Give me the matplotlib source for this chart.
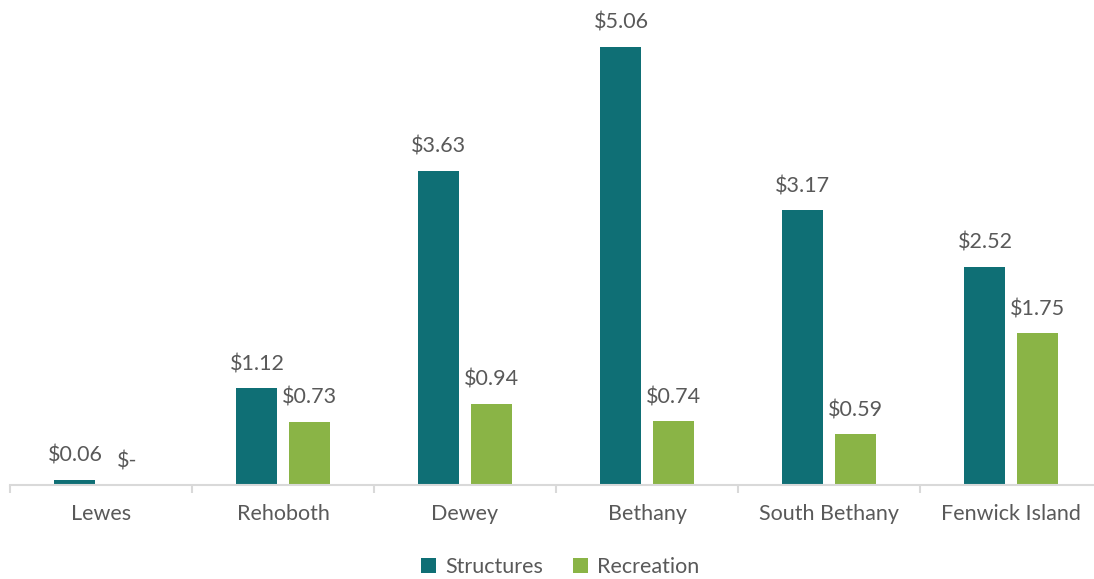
import numpy as np
import matplotlib.pyplot as plt

plt.rcParams['font.family'] = ['Lato', 'DejaVu Sans']

towns = ['Lewes', 'Rehoboth', 'Dewey', 'Bethany', 'South Bethany', 'Fenwick Island']
structures = [0.06, 1.12, 3.63, 5.06, 3.17, 2.52]
recreation = [0.0, 0.73, 0.94, 0.74, 0.59, 1.75]

teal = '#0f6f75'
green = '#8ab446'
grey_text = '#595959'
axis_grey = '#d9d9d9'


def money(v):
    return '$-' if v == 0 else f'${v:.2f}'


fig = plt.figure(figsize=(10.94, 5.79), dpi=100)
ax = fig.add_axes([10 / 1094, (579 - 485) / 579, 1092 / 1094, 485 / 579])

x = np.arange(len(towns))
w = 0.225
off = 0.143
b1 = ax.bar(x - off, structures, w, color=teal, label='Structures')
b2 = ax.bar(x + off, recreation, w, color=green, label='Recreation')

for bars, vals in ((b1, structures), (b2, recreation)):
    for rect, v in zip(bars, vals):
        ax.annotate(money(v), (rect.get_x() + rect.get_width() / 2, v),
                    xytext=(0, 10), textcoords='offset points',
                    ha='center', va='bottom', fontsize=15.5, color=grey_text)

ax.set_xlim(-0.5, len(towns) - 0.5)
ax.set_ylim(0, 5.6)

for side in ('top', 'right', 'left'):
    ax.spines[side].set_visible(False)
ax.spines['bottom'].set_color(axis_grey)
ax.spines['bottom'].set_linewidth(1.5)
ax.set_yticks([])

ax.set_xticks(x)
ax.set_xticklabels(towns, fontsize=15.5, color=grey_text)
ax.tick_params(axis='x', which='major', length=0, pad=14)
ax.set_xticks(np.arange(-0.5, len(towns)), minor=True)
ax.tick_params(axis='x', which='minor', length=6, width=1.5, color=axis_grey)

fig.legend(loc='lower center', bbox_to_anchor=(0.512, -0.03), ncol=2,
           frameon=False, fontsize=15.5, handlelength=0.7, handleheight=0.7,
           handletextpad=0.4, columnspacing=1.4, labelcolor=grey_text)

fig.savefig('out.png', dpi=100)
